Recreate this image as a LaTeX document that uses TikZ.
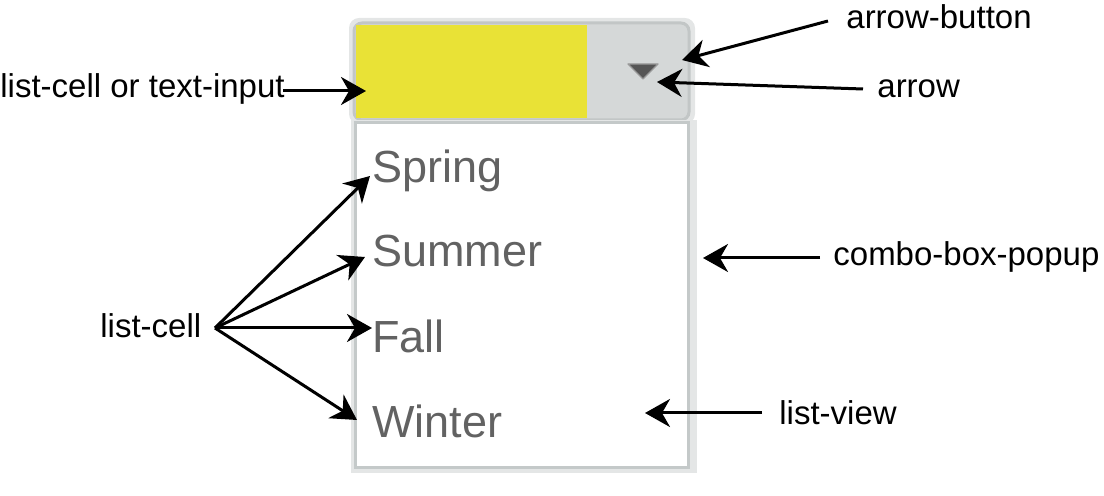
\documentclass[tikz,border=0pt]{standalone}
\usepackage{fontspec}
\setmainfont{Liberation Sans}
\usetikzlibrary{arrows.meta}
\definecolor{yel}{HTML}{E9E236}
\definecolor{btn}{HTML}{D5D8D8}
\definecolor{btnborder}{HTML}{C2C6C6}
\definecolor{halo}{HTML}{E4E6E6}
\definecolor{popborder}{HTML}{C4C9C9}
\definecolor{itemgray}{HTML}{626262}
\definecolor{tri}{HTML}{555555}
\begin{document}
\begin{tikzpicture}[x=0.5pt,y=-0.5pt,
  lab/.style={inner sep=0pt, anchor=base west, font=\fontsize{16.5}{20}\selectfont},
  item/.style={inner sep=0pt, anchor=base west, text=itemgray, font=\fontsize{22.5}{27}\selectfont},
  conn/.style={line width=1.5pt, -{Stealth[length=12.5pt,width=14pt,inset=4pt]}}]
\useasboundingbox (0,0) rectangle (1104,496);
% combo box frame
\fill[halo, rounded corners=5pt] (349,18) rectangle (695,124);
\filldraw[fill=btn, draw=btnborder, line width=1.5pt, rounded corners=4pt] (354,23) rectangle (689,120);
\fill[yel] (356,25) rectangle (587,118);
\filldraw[fill=tri, draw=gray!80, line width=0.6pt, line join=round] (628,64) -- (658,64) -- (643,79) -- cycle;
% popup
\fill[halo] (351,120) rectangle (697,473);
\filldraw[fill=white, draw=popborder, line width=1.5pt] (355,123) rectangle (688,468);
% items
\node[item] (spring) at (372,183) {Spring};
\node[item] (summer) at (372,267) {Summer};
\node[item] (fall) at (372,353) {Fall};
\node[item] (winter) at (372,438) {Winter};
% labels
\node[lab] (lci) at (0,98) {list-cell or text-input};
\node[lab] (ab) at (846,29) {arrow-button};
\node[lab] (ar) at (877,98) {arrow};
\node[lab] (cbp) at (833,266) {combo-box-popup};
\node[lab] (lv) at (779,425) {list-view};
\node[lab] (lc) at (100,338) {list-cell};
% connector ends
\coordinate (lciS) at (283,91);
\coordinate (lciT) at (366,91);
\coordinate (abS) at (828,21);
\coordinate (abT) at (682,60);
\coordinate (arS) at (863,89);
\coordinate (arT) at (657,82);
\coordinate (cbpS) at (820,258);
\coordinate (cbpT) at (703,258);
\coordinate (lvS) at (762,413);
\coordinate (lvT) at (645,413);
\coordinate (lcS) at (215,328);
\coordinate (spT) at (370,176);
\coordinate (suT) at (365,257);
\coordinate (faT) at (372,328);
\coordinate (wiT) at (357,420);
% connectors
\draw[conn] (lciS) -- (lciT);
\draw[conn] (abS) -- (abT);
\draw[conn] (arS) -- (arT);
\draw[conn] (cbpS) -- (cbpT);
\draw[conn] (lvS) -- (lvT);
\draw[conn] (lcS) -- (spT);
\draw[conn] (lcS) -- (suT);
\draw[conn] (lcS) -- (faT);
\draw[conn] (lcS) -- (wiT);
\end{tikzpicture}
\end{document}
